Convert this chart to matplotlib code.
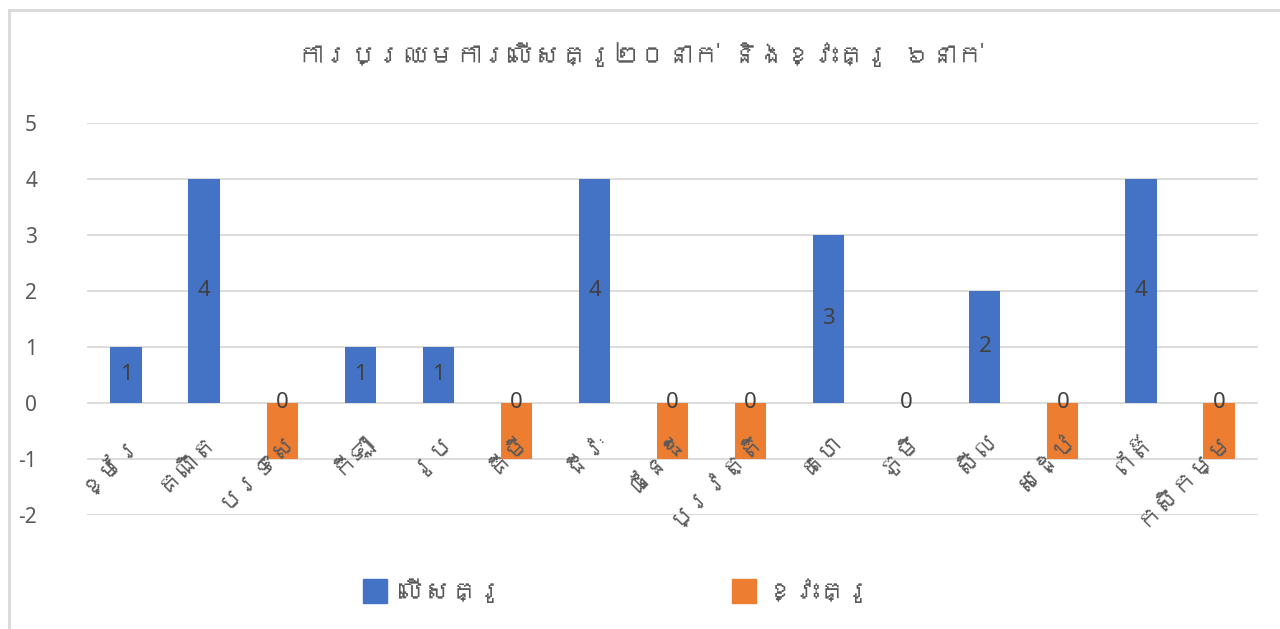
import matplotlib
matplotlib.use("Agg")
import matplotlib.pyplot as plt
from matplotlib import font_manager
from matplotlib.patches import Rectangle
from matplotlib.lines import Line2D

# ---------------- data ----------------
categories = ["ខ្មែរ", "គណិត", "បរទេស", "កីឡា", "រូប", "គីមី", "ជីវៈ", "ផែនដី",
              "ប្រវត្តិ", "គេហ", "ភូមិ", "សីល", "សេដ្ឋ", "ព័ត៌", "កសិកម្ម"]
surplus = [1, 4, None, 1, 1, None, 4, None, None, 3, 0, 2, None, 4, None]
shortage = [None, None, -1, None, None, -1, None, -1, -1, None, None, None, -1, None, -1]
shortage_labels = ["0", "0", "0", "0", "0", "0"]
series_names = ["លើសគ្រូ", "ខ្វះគ្រូ"]
title = "ការប្រឈមការលើសគ្រូ២០នាក់ និងខ្វះគ្រូ ៦នាក់"
yticks = [-2, -1, 0, 1, 2, 3, 4, 5]

# ---------------- fonts ----------------
khmer_family = None
for fe in font_manager.fontManager.ttflist:
    try:
        cm = font_manager.get_font(fe.fname).get_charmap()
        if 0x1780 in cm and 0x17D2 in cm:
            khmer_family = fe.name
            break
    except Exception:
        pass
kh_fam = ([khmer_family] if khmer_family else []) + ["DejaVu Sans"]
num_fam = ["Noto Sans", "DejaVu Sans"]
plt.rcParams["font.family"] = kh_fam

TXT = "#595959"
BLUE = "#4472C4"
ORANGE = "#ED7D31"
GRID = "#D9D9D9"

W, H = 1280, 629
fig = plt.figure(figsize=(W / 100, H / 100), dpi=100)

# chart border (left and top edges visible)
fig.add_artist(Line2D([8.5 / W, 8.5 / W], [0, 1 - 10 / H], transform=fig.transFigure,
                      color=GRID, linewidth=2))
fig.add_artist(Line2D([8.5 / W, 1], [1 - 10 / H, 1 - 10 / H], transform=fig.transFigure,
                      color=GRID, linewidth=2))

left, right = 87, 1258
top_px, bot_px = 122.7, 514.7
ax = fig.add_axes([left / W, 1 - bot_px / H, (right - left) / W, (bot_px - top_px) / H])

x = list(range(len(categories)))
bw = 0.4
sx = [i for i, v in zip(x, surplus) if v is not None]
sv = [v for v in surplus if v is not None]
ox = [i for i, v in zip(x, shortage) if v is not None]
ov = [v for v in shortage if v is not None]

ax.bar(sx, sv, width=bw, color=BLUE, zorder=3, label=series_names[0])
ax.bar(ox, ov, width=bw, color=ORANGE, zorder=3, label=series_names[1])

for i, v in zip(sx, sv):
    ax.text(i, v / 2, str(v), ha="center", va="center", fontsize=16,
            color="#404040", zorder=4, family=num_fam)
for i, lab in zip(ox, shortage_labels):
    ax.text(i, 0, lab, ha="center", va="center", fontsize=16,
            color="#404040", zorder=4, family=num_fam)

ax.set_xlim(-0.5, len(categories) - 0.5)
ax.set_ylim(-2, 5)
ax.set_yticks(yticks)
ax.set_yticklabels([str(t) for t in yticks], family=num_fam)
ax.tick_params(axis="y", length=0, labelsize=15, labelcolor=TXT, pad=36)
ax.set_xticks([])
ax.grid(axis="y", color=GRID, linewidth=1.3, zorder=0)
for s in ax.spines.values():
    s.set_visible(False)

for i, c in enumerate(categories):
    ax.text(i + 0.12, -0.58, c, rotation=45, rotation_mode="anchor",
            ha="right", va="center", fontsize=18, color=TXT, zorder=5)

fig.text(0.5, 1 - 55 / H, title, ha="center", va="center", fontsize=19, color=TXT)

# legend
fig.patches.append(Rectangle((363 / W, 1 - 603 / H), 24 / W, 24 / H,
                             transform=fig.transFigure, color=BLUE))
fig.text(398 / W, 1 - 591 / H, series_names[0], ha="left", va="center",
         fontsize=19, color=TXT)
fig.patches.append(Rectangle((732 / W, 1 - 603 / H), 24 / W, 24 / H,
                             transform=fig.transFigure, color=ORANGE))
fig.text(767 / W, 1 - 591 / H, series_names[1], ha="left", va="center",
         fontsize=19, color=TXT)

fig.savefig("out.png", dpi=100, facecolor="white")
